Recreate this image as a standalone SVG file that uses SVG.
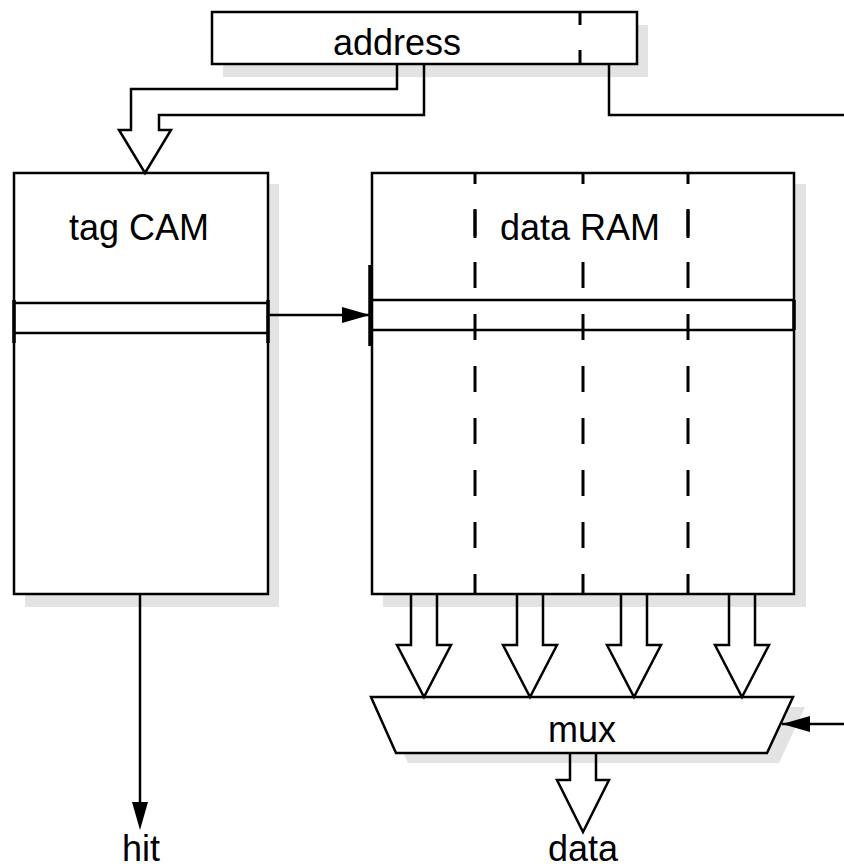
<svg xmlns="http://www.w3.org/2000/svg" width="844" height="868" viewBox="0 0 844 868">
<defs>
<style>
.box{fill:#fff;stroke:#000;stroke-width:2.5}
.sh{fill:#e3e3e3;stroke:none}
.ln{fill:none;stroke:#000;stroke-width:2.5;stroke-linejoin:miter}
.dash{fill:none;stroke:#000;stroke-width:3;stroke-dasharray:26 26}
.thick{stroke:#000;stroke-width:3.5}
.t{font-family:"Liberation Sans",Arial,sans-serif;font-size:36px;fill:#000;text-anchor:middle}
</style>
<marker id="ah2" markerWidth="28" markerHeight="16" refX="28" refY="8" orient="auto" markerUnits="userSpaceOnUse" viewBox="0 0 28 16">
<path d="M0,0 L28,8 L0,16 Z" fill="#000"/>
</marker>
</defs>
<rect width="844" height="868" fill="#fff"/>

<g id="address">
<rect class="sh" x="223" y="25" width="425" height="52"/>
<rect class="box" x="212" y="12" width="425" height="52"/>
<line x1="580" y1="12" x2="580" y2="64" stroke="#000" stroke-width="3" stroke-dasharray="13 25"/>
<text class="t" x="397" y="55">address</text>
</g>

<g id="tagcam">
<rect class="sh" x="25" y="184" width="254" height="423"/>
<rect class="box" x="14" y="173" width="254" height="421"/>
<line class="ln" x1="14" y1="303" x2="268" y2="303"/>
<line class="ln" x1="14" y1="333" x2="268" y2="333"/>
<line class="thick" x1="14" y1="300" x2="14" y2="343"/>
<line class="thick" x1="268" y1="300" x2="268" y2="343"/>
<text class="t" x="139" y="240">tag CAM</text>
</g>

<g id="dataram">
<rect class="sh" x="383" y="184" width="423" height="423"/>
<rect class="box" x="372" y="173" width="422" height="421"/>
<line class="dash" x1="475" y1="173" x2="475" y2="594" stroke-dashoffset="15"/>
<line class="dash" x1="583" y1="173" x2="583" y2="594" stroke-dashoffset="15"/>
<line class="dash" x1="688" y1="173" x2="688" y2="594" stroke-dashoffset="15"/>
<rect x="477" y="210" width="200" height="40" fill="#fff"/>
<line x1="475" y1="209" x2="475" y2="238" stroke="#000" stroke-width="3"/>
<line x1="688" y1="209" x2="688" y2="238" stroke="#000" stroke-width="3"/>
<line class="ln" x1="372" y1="300" x2="794" y2="300"/>
<line class="ln" x1="372" y1="330" x2="794" y2="330"/>
<line class="thick" x1="370" y1="265" x2="370" y2="346"/>
<line class="thick" x1="794" y1="300" x2="794" y2="330"/>
<text class="t" x="580" y="240">data RAM</text>
</g>

<g id="mux">
<polygon class="sh" points="383,707 805,707 779,763 408,763"/>
<polygon class="box" points="371,697 793,697 767,753 396,753"/>
<text class="t" x="582" y="742">mux</text>
</g>

<g id="labels">
<text class="t" x="141" y="861">hit</text>
<text class="t" x="583" y="861">data</text>
</g>

<g id="connectors">
<path class="ln" d="M397,64 V89 H131 V130 H119 L145,173 L171,130 H159 V115 H424 V64"/>
<path class="ln" d="M609,64 V115 H846"/>
<line class="ln" x1="268" y1="315" x2="370" y2="315" marker-end="url(#ah2)"/>
<line class="ln" x1="140" y1="594" x2="140" y2="806"/>
<path d="M132,802 L140,830 L148,802 Z" fill="#000"/>
<path class="ln" d="M411,594 V645 H397 L424,697 L451,645 H437 V594"/>
<path class="ln" d="M517,594 V645 H503 L530,697 L557,645 H543 V594"/>
<path class="ln" d="M621,594 V645 H607 L634,697 L661,645 H647 V594"/>
<path class="ln" d="M729,594 V645 H715 L742,697 L769,645 H755 V594"/>
<path class="ln" d="M570,753 V780 H557 L583,832 L609,780 H596 V753"/>
<line class="ln" x1="846" y1="724" x2="782" y2="724" marker-end="url(#ah2)"/>
</g>
</svg>
